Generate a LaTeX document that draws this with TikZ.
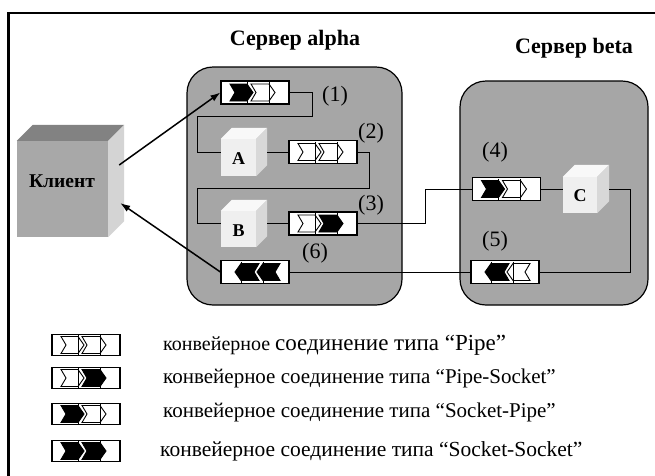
\documentclass[tikz,border=0pt]{standalone}
\usepackage{fontspec}
\setmainfont{Liberation Serif}
\usetikzlibrary{calc,arrows.meta}
\definecolor{srvgray}{HTML}{A6A6A6}
\definecolor{clfront}{HTML}{A8A8A8}
\definecolor{cltop}{HTML}{828282}
\definecolor{clside}{HTML}{D4D4D4}
\definecolor{cbfront}{HTML}{EFEFEF}
\definecolor{cbtop}{HTML}{F8F8F8}
\definecolor{cbside}{HTML}{D8D8D8}
\newcommand\onearrow[3]{%
  \draw[line width=0.9pt,fill=#3] (#1,-8.5) -- (#2-6,-8.5) -- (#2,0) -- (#2-6,8.5) -- (#1,8.5) -- (#1+5,0) -- cycle;
  \draw[line width=0.9pt] (#2-6,-10.5) -- (#2-6,10.5);}
\newcommand\pipearrows[4]{%
  \begin{scope}[shift={(#1.center)},xscale=#2]
    \onearrow{-25}{-2}{#3}
    \onearrow{-4}{20}{#4}
  \end{scope}}
\newcommand\cubefaces[5]{%
  \fill[#3] (#1.south west) rectangle ($(#1.north east)+(-#2,#2)$);
  \fill[#4] ($(#1.north west)+(0,#2)$) -- ($(#1.north west)+(#2,0)$) -- (#1.north east) -- ($(#1.north east)+(-#2,#2)$) -- cycle;
  \fill[#5] ($(#1.north east)+(-#2,#2)$) -- (#1.north east) -- ($(#1.south east)+(0,-#2)$) -- ($(#1.south east)+(-#2,0)$) -- cycle;}
\begin{document}
\begin{tikzpicture}[x=1pt,y=-1pt,
  server/.style={draw=black,line width=1.2pt,fill=srvgray,rounded corners=26pt,inner sep=0pt},
  pbox/.style={draw=black,line width=1.2pt,fill=white,minimum width=68pt,minimum height=23pt,inner sep=0pt},
  lbox/.style={pbox,minimum height=21pt},
  cubebox/.style={inner sep=0pt},
  wire/.style={line width=1pt},
  arr/.style={line width=1.5pt,-{Latex[length=10pt,width=7pt]}},
  num/.style={font=\fontsize{22}{22}\selectfont,inner sep=0pt},
  title/.style={font=\bfseries\fontsize{22}{22}\selectfont,inner sep=0pt},
  cltitle/.style={font=\bfseries\fontsize{19.5}{19.5}\selectfont,inner sep=0pt},
  cubelbl/.style={font=\bfseries\fontsize{18}{18}\selectfont,inner sep=0pt},
  legtxt/.style={font=\fontsize{21}{21}\selectfont,anchor=west,inner sep=0pt}]
\useasboundingbox (0,0) rectangle (655,475);
\fill[white] (0,0) rectangle (655,475);
\draw[line width=2.3pt] (8.5,480) -- (8.5,13) -- (660,13);
% servers
\node[server,minimum width=215pt,minimum height=238pt] (alpha) at (294.5,186) {};
\node[server,minimum width=188pt,minimum height=224pt] (beta) at (554,193) {};
\node[title] (alphat) at (295,40) {Сервер alpha};
\node[title] (betat) at (574,48) {Сервер beta};
% client
\node[cubebox,minimum width=107pt,minimum height=112pt] (client) at (70.5,181) {};
\cubefaces{client}{16}{clfront}{cltop}{clside}
\node[cltitle] (clientl) at (62,181) {Клиент};
% cubes
\node[cubebox,minimum width=46pt,minimum height=48pt] (A) at (244,152) {};
\cubefaces{A}{11}{cbfront}{cbtop}{cbside}
\node[cubelbl] (Al) at (238.5,159) {A};
\node[cubebox,minimum width=46pt,minimum height=47pt] (B) at (244,223.5) {};
\cubefaces{B}{11}{cbfront}{cbtop}{cbside}
\node[cubelbl] (Bl) at (238.5,231) {B};
\node[cubebox,minimum width=46pt,minimum height=48pt] (C) at (586,189) {};
\cubefaces{C}{12}{cbfront}{cbtop}{cbside}
\node[cubelbl] (Cl) at (580,196) {C};
% pipe boxes
\node[pbox] (p1) at (255,92.5) {};
\node[pbox] (p2) at (323,152) {};
\node[pbox] (p3) at (323,223.5) {};
\node[pbox] (p4) at (506.5,189) {};
\node[pbox] (p5) at (505,272) {};
\node[pbox] (p6) at (255,272) {};
% wires
\draw[wire] (p1.east) -- ++(23,0) -- ++(0,23.5) -- ++(-115,0) |- (A.west);
\draw[wire] (A.east) -- (p2.west);
\draw[wire] (p2.east) -- ++(12,0) -- ++(0,36) -- ++(-172,0) |- (B.west);
\draw[wire] (B.east) -- (p3.west);
\draw[wire] (p3.east) -- ++(68,0) |- (p4.west);
\draw[wire] (p4.east) -- (C.west);
\draw[wire] (C.east) -- ++(21,0) |- (p5.east);
\draw[wire] (p5.west) -- (p6.east);
\pipearrows{p1}{1}{black}{white}
\pipearrows{p2}{1}{white}{white}
\pipearrows{p3}{1}{white}{black}
\pipearrows{p4}{1}{black}{white}
\pipearrows{p5}{-1}{white}{black}
\pipearrows{p6}{-1}{black}{black}
% labels
\node[num] (n1) at (335,96) {(1)};
\node[num] (n2) at (371,133) {(2)};
\node[num] (n3) at (371,205) {(3)};
\node[num] (n4) at (495,152) {(4)};
\node[num] (n5) at (495,241) {(5)};
\node[num] (n6) at (315,253) {(6)};
% client arrows
\draw[arr] ($(client.east)+(-5,-16)$) -- (p1.west);
\draw[arr] (p6.west) -- ($(client.east)+(-4,22)$);
% legend
\node[lbox] (l1) at (86,345) {};
\node[lbox] (l2) at (86,378) {};
\node[lbox] (l3) at (86,414) {};
\node[lbox] (l4) at (86,451) {};
\pipearrows{l1}{1}{white}{white}
\pipearrows{l2}{1}{white}{black}
\pipearrows{l3}{1}{black}{white}
\pipearrows{l4}{1}{black}{black}
\node[legtxt,font=\fontsize{20}{20}\selectfont] (t1) at (163,345) {конвейерное {\fontsize{23}{23}\selectfont соединение типа “Pipe”}};
\node[legtxt] (t2) at (163,378) {конвейерное соединение типа “Pipe-Socket”};
\node[legtxt] (t3) at (163,412) {конвейерное соединение типа “Socket-Pipe”};
\node[legtxt,font=\fontsize{21.5}{21.5}\selectfont] (t4) at (160,451) {конвейерное соединение типа “Socket-Socket”};
\end{tikzpicture}
\end{document}
